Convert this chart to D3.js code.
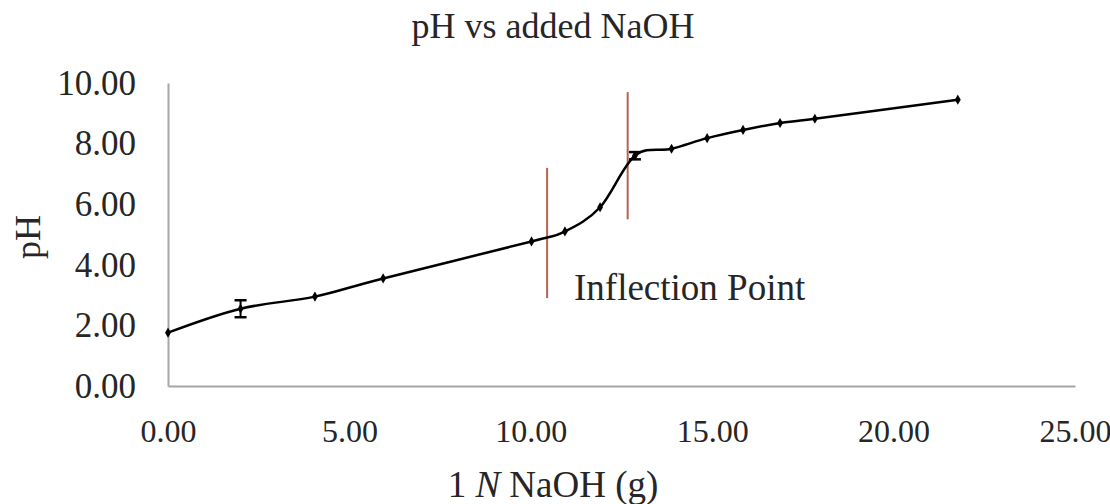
<!DOCTYPE html>
<html>
<head>
<meta charset="utf-8">
<script src="https://cdn.jsdelivr.net/npm/d3@7"></script>
<style>
  body { margin: 0; background: #fff; }
</style>
</head>
<body>
<div id="chart"></div>
<script>
// data
var naoh = [0, 2, 4.05, 5.93, 10.02, 10.94, 11.91, 12.87, 13.88, 14.86, 15.85, 16.87, 17.83, 21.77];
var ph = [1.76, 2.55, 2.95, 3.55, 4.77, 5.1, 5.9, 7.6, 7.83, 8.18, 8.45, 8.68, 8.82, 9.45];
var phErr = [0, 0.28, 0, 0, 0, 0, 0, 0.12, 0, 0, 0, 0, 0, 0];
var xTicks = [0, 5, 10, 15, 20, 25];
var yTicks = [0, 2, 4, 6, 8, 10];
// inflection markers: x position, y from, y to
var markX = [10.45, 12.67];
var markY0 = [2.9, 5.5];
var markY1 = [7.2, 9.7];

var FONT = "'Liberation Serif', 'Times New Roman', Times, serif";
var WIDTH = 1110,
    HEIGHT = 504,
    MARGINS = { top: 83, bottom: 118, left: 168, right: 35 };

var data = naoh.map(function(d, i) { return { x: d, y: ph[i], e: phErr[i] }; });

var xScale = d3.scaleLinear().domain([0, 25]).range([MARGINS.left, WIDTH - MARGINS.right]);
var yScale = d3.scaleLinear().domain([0, 10]).range([HEIGHT - MARGINS.bottom, MARGINS.top]);

var svg = d3.select("#chart").append("svg")
    .attr("width", WIDTH)
    .attr("height", HEIGHT)
    .style("font-family", FONT);

// axes
var xAxis = svg.append("g")
    .attr("transform", "translate(0," + yScale(0) + ")")
    .call(d3.axisBottom(xScale).tickValues(xTicks).tickSize(0).tickPadding(33)
        .tickFormat(d3.format(".2f")));
xAxis.select(".domain").attr("stroke", "#a6a6a6").attr("stroke-width", 2);
xAxis.selectAll("text")
    .style("font-family", FONT).style("font-size", "32px").attr("fill", "#262626");

var yAxis = svg.append("g")
    .attr("transform", "translate(" + xScale(0) + ",0)")
    .call(d3.axisLeft(yScale).tickValues(yTicks).tickSize(0).tickPadding(32)
        .tickFormat(d3.format(".2f")));
yAxis.select(".domain").attr("stroke", "#a6a6a6").attr("stroke-width", 2);
yAxis.selectAll("text")
    .style("font-family", FONT).style("font-size", "35px").attr("fill", "#262626");

// titles
svg.append("text")
    .attr("x", 553).attr("y", 38)
    .attr("text-anchor", "middle")
    .style("font-family", FONT).style("font-size", "36px")
    .attr("fill", "#262626")
    .text("pH vs added NaOH");

var xt = svg.append("text")
    .attr("x", 553).attr("y", 497)
    .attr("text-anchor", "middle")
    .style("font-family", FONT).style("font-size", "37px")
    .attr("fill", "#262626");
xt.append("tspan").text("1 ");
xt.append("tspan").style("font-style", "italic").text("N");
xt.append("tspan").text(" NaOH (g)");

svg.append("text")
    .attr("transform", "translate(40,237) rotate(-90)")
    .attr("text-anchor", "middle")
    .style("font-family", FONT).style("font-size", "36px")
    .attr("fill", "#262626")
    .text("pH");

// inflection marker lines
svg.selectAll(".mark")
    .data(markX)
    .enter().append("line")
    .attr("class", "mark")
    .attr("x1", function(d) { return xScale(d); })
    .attr("x2", function(d) { return xScale(d); })
    .attr("y1", function(d, i) { return yScale(markY0[i]); })
    .attr("y2", function(d, i) { return yScale(markY1[i]); })
    .attr("stroke", "#b5634f")
    .attr("stroke-width", 2);

svg.append("text")
    .attr("x", 574).attr("y", 300)
    .style("font-family", FONT).style("font-size", "37px")
    .attr("fill", "#262626")
    .text("Inflection Point");

// line
var lineGen = d3.line()
    .x(function(d) { return xScale(d.x); })
    .y(function(d) { return yScale(d.y); })
    .curve(d3.curveCatmullRom.alpha(0));

svg.append("path")
    .datum(data)
    .attr("d", lineGen)
    .attr("fill", "none")
    .attr("stroke", "#000")
    .attr("stroke-width", 2.5);

// error bars
var eb = svg.selectAll(".err")
    .data(data.filter(function(d) { return d.e > 0; }))
    .enter().append("g").attr("class", "err");
eb.append("line")
    .attr("x1", function(d) { return xScale(d.x); })
    .attr("x2", function(d) { return xScale(d.x); })
    .attr("y1", function(d) { return yScale(d.y - d.e); })
    .attr("y2", function(d) { return yScale(d.y + d.e); })
    .attr("stroke", "#000").attr("stroke-width", 2);
[-1, 1].forEach(function(s) {
  eb.append("line")
    .attr("x1", function(d) { return xScale(d.x) - 6; })
    .attr("x2", function(d) { return xScale(d.x) + 6; })
    .attr("y1", function(d) { return yScale(d.y + s * d.e); })
    .attr("y2", function(d) { return yScale(d.y + s * d.e); })
    .attr("stroke", "#000").attr("stroke-width", 2.5);
});

// markers
svg.selectAll(".pt")
    .data(data)
    .enter().append("path")
    .attr("class", "pt")
    .attr("transform", function(d) { return "translate(" + xScale(d.x) + "," + yScale(d.y) + ")"; })
    .attr("d", d3.symbol().type(d3.symbolDiamond).size(30))
    .attr("fill", "#000");
</script>
</body>
</html>
